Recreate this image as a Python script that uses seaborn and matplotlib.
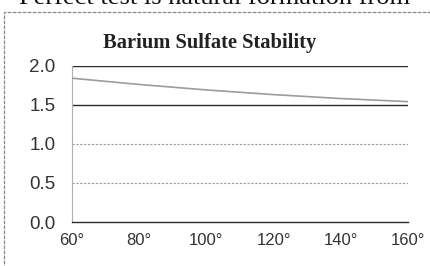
import matplotlib
matplotlib.use('Agg')
import matplotlib.pyplot as plt
import seaborn as sns
import pandas as pd
from matplotlib.patches import Rectangle

# values
temps = [60, 80, 100, 120, 140, 160]
stability = [1.84, 1.76, 1.69, 1.63, 1.58, 1.54]
yticks = [0.0, 0.5, 1.0, 1.5, 2.0]
xticks = [60, 80, 100, 120, 140, 160]
xlabels = [f'{t}°' for t in xticks]

df = pd.DataFrame({'temp': temps, 'stability': stability})

sns.set_style('white')
plt.rcParams['font.family'] = ['Liberation Sans', 'DejaVu Sans']

fig = plt.figure(figsize=(4.3, 2.66), dpi=100)
ax = fig.add_axes([0.1674, 0.1654, 0.7814, 0.5876])

# gridlines
for v in yticks[1:]:
    if v >= 1.5:
        ax.axhline(v, color='#2a2a2a', linewidth=1.0, zorder=1)
    else:
        ax.axhline(v, color='#9a9a9a', linewidth=0.8, linestyle=(0, (2, 1.5)), zorder=1)

sns.lineplot(data=df, x='temp', y='stability', ax=ax, color='#9c9c9c', linewidth=1.2, zorder=3)

ax.set_xlim(60, 160)
ax.set_ylim(0, 2.0)
ax.set_xticks(xticks)
ax.set_xticklabels(xlabels, fontsize=12, color='#333333')
ax.set_yticks(yticks)
ax.set_yticklabels([f'{v:.1f}' for v in yticks], fontsize=13.5, color='#333333')
ax.set_xlabel('')
ax.set_ylabel('')

for side in ['top', 'right']:
    ax.spines[side].set_visible(False)
ax.spines['left'].set_color('#b0b0b0')
ax.spines['left'].set_linewidth(0.8)
ax.spines['bottom'].set_color('#2a2a2a')
ax.spines['bottom'].set_linewidth(1.0)
ax.tick_params(axis='x', direction='inout', length=6, width=0.8, color='#555555', pad=5)
ax.tick_params(axis='y', length=0, pad=12)

ax.set_title('Barium Sulfate Stability', fontsize=14.8, fontweight='bold',
             family='Liberation Serif', color='#222222', pad=13, x=0.41)

# outer frame of the scanned chart box
fig.patches.append(Rectangle((4 / 430, -0.1), 1.0, 1 - 12 / 266 + 0.1, transform=fig.transFigure,
                             fill=False, edgecolor='#8a8a8a', linewidth=0.9, linestyle=(0, (3, 1))))

# clipped line of page text above the chart
fig.text(0.5, 1 - 4 / 266, 'Perfect test is natural formation from', family='Liberation Serif',
         fontsize=19, ha='center', va='baseline', color='#111111')

fig.savefig('out.png', dpi=100)
